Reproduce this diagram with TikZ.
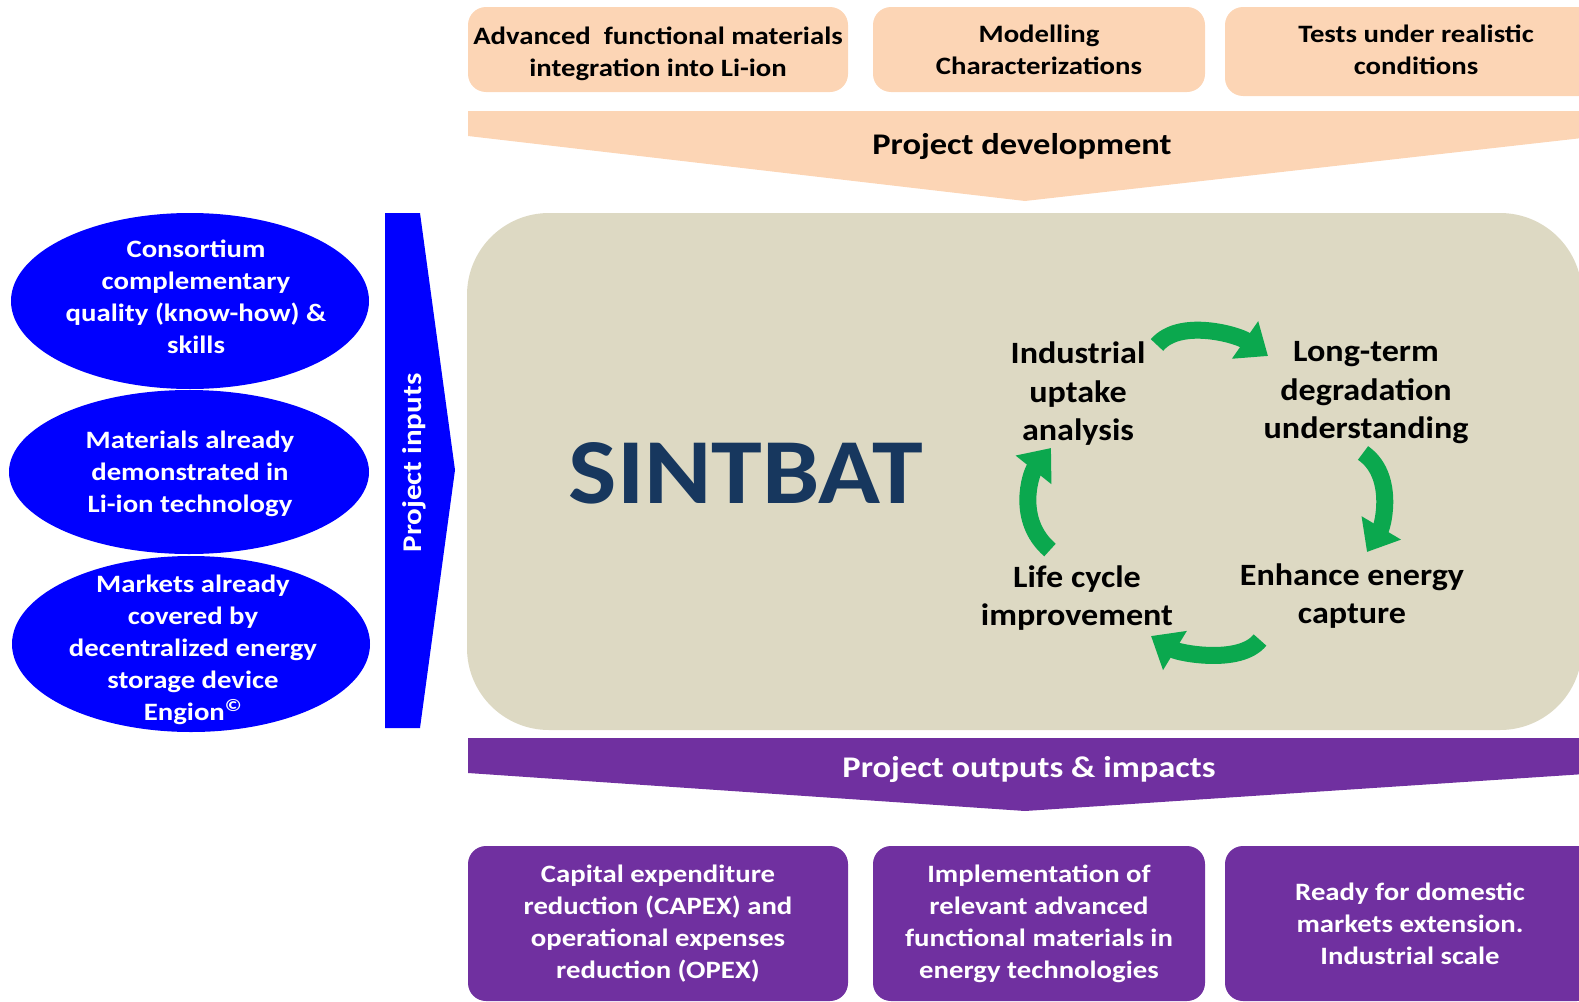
\documentclass[tikz,border=0pt]{standalone}
\usepackage{fontspec}
\setmainfont{Carlito}[FakeStretch=1.15]
\newfontfamily\cyclefont{Carlito}[FakeStretch=1.10]
\usetikzlibrary{shapes.geometric,arrows.meta}

\definecolor{devpeach}{HTML}{FCD5B5}
\definecolor{coretan}{HTML}{DDD9C3}
\definecolor{outviolet}{HTML}{7030A0}
\definecolor{inblue}{HTML}{0000FF}
\definecolor{titlenavy}{HTML}{17375E}
\definecolor{cyclegreen}{HTML}{0BA84E}

\begin{document}
\begin{tikzpicture}[x=1pt,y=-1pt,
  every node/.style={inner sep=0pt, align=center},
  txt/.style={font=\fontsize{25}{32}\selectfont\bfseries},
  topbox/.style={fill=devpeach, rounded corners=18pt, txt, text=black},
  botbox/.style={fill=outviolet, rounded corners=18pt, txt, text=white},
  inellipse/.style={ellipse, fill=inblue},
  intext/.style={txt, text=white},
  cyclelabel/.style={font=\cyclefont\fontsize{31}{38.5}\selectfont\bfseries, text=black},
  bandlabel/.style={font=\fontsize{30}{36}\selectfont\bfseries},
  cyclearrow/.style={draw=cyclegreen, line width=17pt,
    -{Triangle[width=44pt,length=28pt]}}
]
\useasboundingbox (0,0) rectangle (1579,1001);

% --- development inputs (top row) ---
\node[topbox, minimum width=380pt, minimum height=85pt] (t1) at (658,49.5)
  {\rule{0pt}{26pt}Advanced~ functional materials\\integration into Li-ion};
\node[topbox, minimum width=332pt, minimum height=85pt] (t2) at (1039,49.5)
  {Modelling\\Characterizations};
\node[topbox, minimum width=382pt, minimum height=89pt] (t3) at (1416,51.5)
  {Tests under realistic\\conditions\rule[-4pt]{0pt}{4pt}};

% --- project development band ---
\fill[devpeach] (468,111) -- (1600,111) -- (1600,136) -- (1025,201) -- (468,136) -- cycle;
\node[bandlabel, text=black] (dev) at (1022,147) {Project development};

% --- core panel ---
\node[fill=coretan, rounded corners=82pt, minimum width=1115pt, minimum height=517pt]
  (core) at (1024.5,471.5) {};
\node[font=\cyclefont\fontsize{93}{100}\selectfont\bfseries, text=titlenavy] (title) at (746,473) {SINTBAT};

% --- cycle ---
\node[cyclelabel] (ind) at (1078,394) {Industrial\\uptake\\analysis};
\node[cyclelabel] (deg) at (1366,393) {Long-term\\degradation\\understanding};
\node[cyclelabel] (enh) at (1352,596) {Enhance energy\\capture};
\node[cyclelabel] (lcy) at (1077,598) {Life cycle\\improvement};

\coordinate (a1s) at (1157,345);  \coordinate (a1e) at (1268,356);
\coordinate (a2s) at (1363,453);  \coordinate (a2e) at (1367,552);
\coordinate (a3s) at (1260,640);  \coordinate (a3e) at (1151,636);
\coordinate (a4s) at (1050,550);  \coordinate (a4e) at (1051,448);
\draw[cyclearrow] (a1s) .. controls (1180,318) and (1238,335) .. (a1e);
\draw[cyclearrow] (a2s) .. controls (1395,475) and (1383,525) .. (a2e);
\draw[cyclearrow] (a3s) .. controls (1240,665) and (1179,653) .. (a3e);
\draw[cyclearrow] (a4s) .. controls (1015,520) and (1031,473) .. (a4e);

% --- project inputs ---
\fill[inblue] (385,213) -- (420,213) -- (455,470) -- (420,728) -- (385,728) -- cycle;
\node[bandlabel, font=\fontsize{27}{32}\selectfont\bfseries, text=white, rotate=90] (inp) at (414,463) {Project inputs};

\node[inellipse, minimum width=358pt, minimum height=176pt] (e1) at (190,301) {};
\node[inellipse, minimum width=360pt, minimum height=164pt] (e2) at (189,472) {};
\node[inellipse, minimum width=358pt, minimum height=176pt] (e3) at (191,644) {};
\node[intext] (e1t) at (196,297) {Consortium\\complementary\\quality (know-how) \&\\skills};
\node[intext] (e2t) at (190,474) {Materials already\\demonstrated in\\Li-ion technology};
\node[intext] (e3t) at (193,650) {Markets already\\covered by\\decentralized energy\\storage device\\Engion\textsuperscript{©}};

% --- project outputs band ---
\fill[outviolet] (468,738) -- (1600,738) -- (1600,773) -- (1025,811) -- (468,773) -- cycle;
\node[bandlabel, text=white] (out) at (1029,769) {Project outputs \& impacts};

% --- outputs (bottom row) ---
\node[botbox, minimum width=380pt, minimum height=155pt] (b1) at (658,923.5)
  {Capital expenditure\\reduction (CAPEX) and\\operational expenses\\reduction (OPEX)};
\node[botbox, minimum width=332pt, minimum height=155pt] (b2) at (1039,923.5)
  {Implementation of\\relevant advanced\\functional materials in\\energy technologies};
\node[botbox, minimum width=370pt, minimum height=155pt] (b3) at (1410,923.5)
  {Ready for domestic\\markets extension.\\Industrial scale};
\end{tikzpicture}
\end{document}
